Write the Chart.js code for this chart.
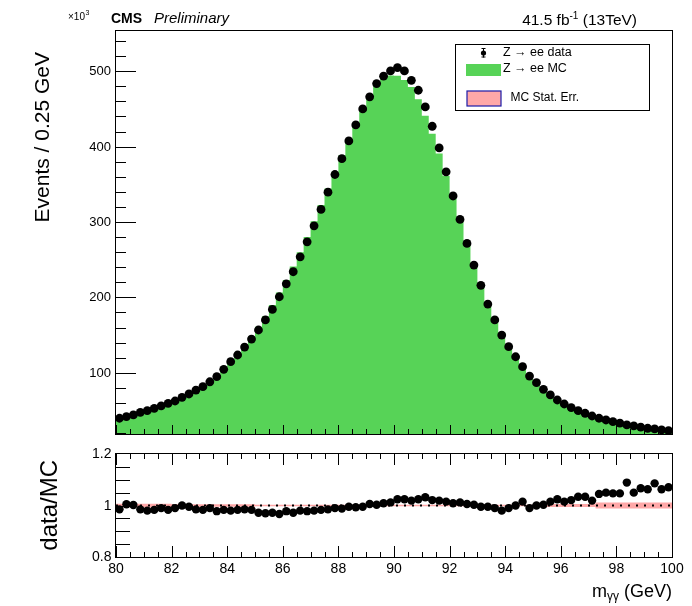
<!DOCTYPE html>
<html>
<head>
<meta charset="utf-8">
<title>Z to ee: data vs MC</title>
<script src="https://cdn.jsdelivr.net/npm/chart.js@4.4.1/dist/chart.umd.min.js"></script>
<style>
  html, body { margin: 0; padding: 0; background: #fff; }
  #wrap { position: relative; width: 692px; height: 606px; }
  #wrap canvas { position: absolute; left: 0; top: 0; }
</style>
</head>
<body>
<div id="wrap">
  <canvas id="main" width="692" height="606"></canvas>
  <canvas id="ratio" width="692" height="606"></canvas>
</div>
<script>
// --- 1. DATA (events x10^3 per 0.25 GeV bin, 80 -> 100 GeV) ---
const BIN_LOW = 80;
const BIN_WIDTH = 0.25;

const dataEvents = [
  39.6, 41.8, 44.0, 47.5, 49.7, 52.8, 55.9, 59.4, 62.5, 67.4,
  71.8, 77.0, 81.5, 88.0, 94.7, 104.5, 114.6, 123.5, 134.0, 144.7,
  156.7, 170.0, 184.0, 200.8, 218.0, 234.0, 253.8, 273.7, 294.9, 316.6,
  339.5, 363.0, 384.0, 407.6, 428.8, 450.0, 466.0, 483.7, 493.4, 500.4,
  504.9, 500.4, 488.0, 474.8, 452.7, 427.0, 398.3, 366.5, 334.5, 303.4,
  271.6, 242.8, 215.9, 191.1, 170.0, 150.0, 134.5, 121.2, 108.0, 95.6,
  86.8, 78.0, 70.5, 63.8, 58.5, 53.7, 49.7, 46.2, 42.6, 39.6,
  37.3, 35.1, 33.0, 30.7, 29.4, 27.7, 26.3, 25.4, 24.1, 23.2
];

const mcEvents = [
  40.0, 42.0, 44.4, 47.4, 50.4, 53.6, 57.0, 60.6, 64.5, 68.7,
  73.2, 78.2, 83.6, 89.5, 96.5, 105.5, 115.5, 126.0, 137.0, 148.5,
  161.0, 175.0, 190.0, 206.5, 223.0, 241.0, 260.0, 280.0, 301.0, 322.5,
  344.5, 366.5, 388.5, 410.0, 431.5, 450.0, 465.0, 480.0, 490.0, 494.5,
  494.0, 488.5, 479.0, 463.0, 441.0, 417.0, 391.0, 361.0, 331.0, 300.0,
  270.0, 242.0, 217.0, 193.0, 172.0, 153.5, 137.0, 122.0, 108.5, 96.8,
  86.8, 78.0, 70.3, 63.5, 57.8, 53.0, 48.6, 44.8, 41.5, 38.5,
  35.8, 33.4, 31.2, 29.3, 27.6, 26.0, 24.6, 23.3, 22.2, 21.2
];

const ratioValues = [
  0.985, 1.005, 1.002, 0.985, 0.980, 0.983, 0.990, 0.983, 0.990, 1.000,
  0.995, 0.985, 0.983, 0.990, 0.978, 0.983, 0.980, 0.983, 0.985, 0.983,
  0.972, 0.970, 0.972, 0.967, 0.978, 0.972, 0.980, 0.978, 0.980, 0.983,
  0.985, 0.990, 0.988, 0.995, 0.993, 0.995, 1.006, 1.003, 1.009, 1.012,
  1.024, 1.024, 1.019, 1.024, 1.032, 1.021, 1.019, 1.015, 1.009, 1.012,
  1.006, 1.003, 0.995, 0.995, 0.990, 0.980, 0.990, 1.000, 1.015, 0.990,
  1.000, 1.003, 1.015, 1.024, 1.015, 1.021, 1.034, 1.034, 1.019, 1.045,
  1.050, 1.047, 1.047, 1.089, 1.050, 1.067, 1.063, 1.086, 1.063, 1.071
];

// relative MC statistical error per bin
const mcStatErr = [
  0.007, 0.007, 0.007, 0.007, 0.007, 0.007, 0.007, 0.007, 0.005, 0.005,
  0.005, 0.005, 0.005, 0.005, 0.005, 0.005, 0.005, 0.005, 0.005, 0.005,
  0.003, 0.003, 0.003, 0.003, 0.003, 0.003, 0.003, 0.003, 0.003, 0.003,
  0.003, 0.003, 0.003, 0.003, 0.003, 0.003, 0.003, 0.003, 0.003, 0.003,
  0.003, 0.003, 0.003, 0.003, 0.003, 0.003, 0.003, 0.003, 0.003, 0.003,
  0.003, 0.003, 0.003, 0.003, 0.003, 0.003, 0.003, 0.003, 0.003, 0.003,
  0.006, 0.006, 0.006, 0.006, 0.006, 0.006, 0.006, 0.006, 0.006, 0.012,
  0.012, 0.012, 0.012, 0.012, 0.012, 0.012, 0.012, 0.012, 0.012, 0.012
];

const xTickLabels = [80, 82, 84, 86, 88, 90, 92, 94, 96, 98, 100];
const mainYTickLabels = [100, 200, 300, 400, 500];
const ratioYTickLabels = [0.8, 1, 1.2];

// --- 2. STYLE ---
const FONT = '"Liberation Sans", Arial, Helvetica, sans-serif';
const COLORS = {
  MC: '#57d357',
  STAT: '#ffa8a8',
  STAT_EDGE: '#1c1ca8',
  INK: '#000000'
};

// --- 3. HELPERS ---
const edgeX = i => BIN_LOW + i * BIN_WIDTH;
const centerX = i => BIN_LOW + (i + 0.5) * BIN_WIDTH;

// step histogram points: each bin value is held from its low edge to the next edge
// (Chart.js 'before' = horizontal to the next x first, then vertical)
const stepPoints = values => {
  const pts = values.map((v, i) => ({ x: edgeX(i), y: v }));
  pts.push({ x: edgeX(values.length), y: values[values.length - 1] });
  return pts;
};

function text(ctx, str, x, y, o = {}) {
  ctx.save();
  ctx.translate(x, y);
  if (o.rotate) ctx.rotate(o.rotate);
  ctx.font = o.font || `13px ${FONT}`;
  ctx.textAlign = o.align || 'left';
  ctx.textBaseline = o.baseline || 'alphabetic';
  ctx.fillStyle = o.color || COLORS.INK;
  ctx.fillText(str, 0, 0);
  const w = ctx.measureText(str).width;
  ctx.restore();
  return w;
}

function measure(ctx, str, font) {
  ctx.save();
  ctx.font = font;
  const w = ctx.measureText(str).width;
  ctx.restore();
  return w;
}

function line(ctx, x1, y1, x2, y2) {
  ctx.beginPath();
  ctx.moveTo(x1, y1);
  ctx.lineTo(x2, y2);
  ctx.stroke();
}

// ROOT-like inward x ticks along one edge
function xTicks(ctx, xs, yEdge, dir, majorLen, minorLen) {
  for (let v = 80; v <= 100.001; v += 0.5) {
    const px = Math.round(xs.getPixelForValue(v)) + 0.5;
    const len = Math.abs(v % 2) < 1e-6 ? majorLen : minorLen;
    line(ctx, px, yEdge, px, yEdge + dir * len);
  }
}

function frame(ctx, a) {
  ctx.strokeRect(a.left - 0.5, a.top - 0.5, a.right - a.left + 1, a.bottom - a.top + 1);
}

// --- 4. PLUGINS ---
const mainDecor = {
  id: 'mainDecor',
  afterDatasetsDraw(chart) {
    const { ctx, chartArea: a, scales: { x, y } } = chart;
    ctx.save();
    ctx.strokeStyle = COLORS.INK;
    ctx.lineWidth = 1;
    frame(ctx, a);

    // y ticks: major every 100, minor every 20
    for (let v = 20; v <= 540; v += 20) {
      const py = Math.round(y.getPixelForValue(v)) + 0.5;
      const len = v % 100 === 0 ? 20 : 10;
      line(ctx, a.left, py, a.left + len, py);
    }
    mainYTickLabels.forEach(v => {
      text(ctx, String(v), a.left - 5, y.getPixelForValue(v) + 0.5,
        { align: 'right', baseline: 'middle', font: `13px ${FONT}` });
    });
    xTicks(ctx, x, a.bottom, -1, 9, 5);

    // y title + exponent
    text(ctx, 'Events / 0.25 GeV', 49, 52,
      { rotate: -Math.PI / 2, align: 'right', font: `21px ${FONT}` });
    const w10 = text(ctx, '\u00d710', 68, 20, { font: `10px ${FONT}` });
    text(ctx, '3', 68 + w10 + 0.5, 15, { font: `7px ${FONT}` });

    // header
    text(ctx, 'CMS', 111, 23, { font: `bold 14px ${FONT}` });
    text(ctx, 'Preliminary', 154, 23, { font: `italic 15px ${FONT}` });

    const fBig = `15.5px ${FONT}`, fSup = `10px ${FONT}`;
    const partA = '41.5 fb', partB = '-1', partC = ' (13TeV)';
    const total = measure(ctx, partA, fBig) + measure(ctx, partB, fSup) + measure(ctx, partC, fBig);
    let lx = 637 - total;
    lx += text(ctx, partA, lx, 25, { font: fBig });
    lx += text(ctx, partB, lx, 19, { font: fSup });
    text(ctx, partC, lx, 25, { font: fBig });

    // legend
    ctx.fillStyle = '#fff';
    ctx.fillRect(455.5, 44.5, 194, 66);
    ctx.strokeStyle = COLORS.INK;
    ctx.strokeRect(455.5, 44.5, 194, 66);

    const lf = `12.5px ${FONT}`;
    // data marker with error bar
    line(ctx, 483.5, 48, 483.5, 57.5);
    line(ctx, 481.5, 48.5, 485.5, 48.5);
    line(ctx, 481.5, 57, 485.5, 57);
    ctx.fillStyle = COLORS.INK;
    ctx.beginPath();
    ctx.arc(483.5, 53, 2.6, 0, Math.PI * 2);
    ctx.fill();
    text(ctx, 'Z \u2192 ee data', 503, 52.5, { baseline: 'middle', font: lf });

    ctx.fillStyle = COLORS.MC;
    ctx.fillRect(466, 64, 35, 12);
    text(ctx, 'Z \u2192 ee MC', 503, 69, { baseline: 'middle', font: lf });

    ctx.fillStyle = COLORS.STAT;
    ctx.fillRect(467, 91, 34, 15);
    ctx.strokeStyle = COLORS.STAT_EDGE;
    ctx.lineWidth = 1.2;
    ctx.strokeRect(467, 91, 34, 15);
    text(ctx, 'MC Stat. Err.', 510.5, 97.5, { baseline: 'middle', font: `12px ${FONT}` });
    ctx.restore();
  }
};

const ratioDecor = {
  id: 'ratioDecor',
  afterDatasetsDraw(chart) {
    const { ctx, chartArea: a, scales: { x, y } } = chart;
    ctx.save();
    ctx.strokeStyle = COLORS.INK;
    ctx.lineWidth = 1;
    frame(ctx, a);

    for (let k = 1; k <= 7; k++) {
      const py = Math.round(y.getPixelForValue(0.8 + k * 0.05)) + 0.5;
      line(ctx, a.left, py, a.left + 14, py);
    }
    xTicks(ctx, x, a.bottom, -1, 11, 5);
    xTicks(ctx, x, a.top, 1, 11, 5);

    ratioYTickLabels.forEach(v => {
      text(ctx, String(v), 111.5, y.getPixelForValue(v) + 0.5,
        { align: 'right', baseline: 'middle', font: `14px ${FONT}` });
    });
    xTickLabels.forEach(v => {
      text(ctx, String(v), x.getPixelForValue(v), 573,
        { align: 'center', font: `14px ${FONT}` });
    });

    text(ctx, 'data/MC', 57, 460,
      { rotate: -Math.PI / 2, align: 'right', font: `24px ${FONT}` });

    // m_{γγ} (GeV), right aligned to the frame
    const fT = `18px ${FONT}`, fS = `12px ${FONT}`;
    const wTot = measure(ctx, 'm', fT) + measure(ctx, '\u03b3\u03b3', fS) + measure(ctx, ' (GeV)', fT);
    let tx = a.right - wTot;
    tx += text(ctx, 'm', tx, 597, { font: fT });
    tx += text(ctx, '\u03b3\u03b3', tx, 600, { font: fS });
    text(ctx, ' (GeV)', tx, 597, { font: fT });
    ctx.restore();
  }
};

// --- 5. CHARTS ---
const hiddenScale = (min, max) => ({
  type: 'linear', min, max, display: false
});

const baseOptions = (padding, yMin, yMax) => ({
  responsive: false,
  animation: false,
  events: [],
  layout: { padding },
  plugins: { legend: { display: false }, tooltip: { enabled: false } },
  scales: { x: hiddenScale(80, 100), y: hiddenScale(yMin, yMax) }
});

new Chart(document.getElementById('main'), {
  type: 'line',
  data: {
    datasets: [
      {
        label: 'Z \u2192 ee data',
        data: dataEvents.map((v, i) => ({ x: centerX(i), y: v })),
        showLine: false,
        pointRadius: 4.4,
        pointBackgroundColor: COLORS.INK,
        pointBorderWidth: 0,
        order: 0
      },
      {
        label: 'Z \u2192 ee MC',
        data: stepPoints(mcEvents),
        stepped: 'before',
        fill: 'start',
        backgroundColor: COLORS.MC,
        borderWidth: 0,
        pointRadius: 0,
        order: 2
      }
    ]
  },
  options: baseOptions({ left: 116, right: 20, top: 31, bottom: 172 }, 18.7, 553.4),
  plugins: [mainDecor]
});

new Chart(document.getElementById('ratio'), {
  type: 'line',
  data: {
    datasets: [
      {
        label: 'data/MC',
        data: ratioValues.map((v, i) => ({ x: centerX(i), y: v })),
        showLine: false,
        pointRadius: 4.2,
        pointBackgroundColor: COLORS.INK,
        pointBorderWidth: 0,
        order: 0
      },
      {
        label: 'unity',
        data: [{ x: 80, y: 1 }, { x: 100, y: 1 }],
        borderColor: COLORS.INK,
        borderWidth: 2,
        borderDash: [2, 6],
        pointRadius: 0,
        order: 1
      },
      {
        label: 'MC stat up',
        data: stepPoints(mcStatErr.map(e => 1 + e)),
        stepped: 'before',
        borderWidth: 0,
        pointRadius: 0,
        order: 3
      },
      {
        label: 'MC Stat. Err.',
        data: stepPoints(mcStatErr.map(e => 1 - e)),
        stepped: 'before',
        fill: '-1',
        backgroundColor: COLORS.STAT,
        borderWidth: 0,
        pointRadius: 0,
        order: 3
      }
    ]
  },
  options: baseOptions({ left: 116, right: 20, top: 454, bottom: 49 }, 0.8, 1.2),
  plugins: [ratioDecor]
});
</script>
</body>
</html>
